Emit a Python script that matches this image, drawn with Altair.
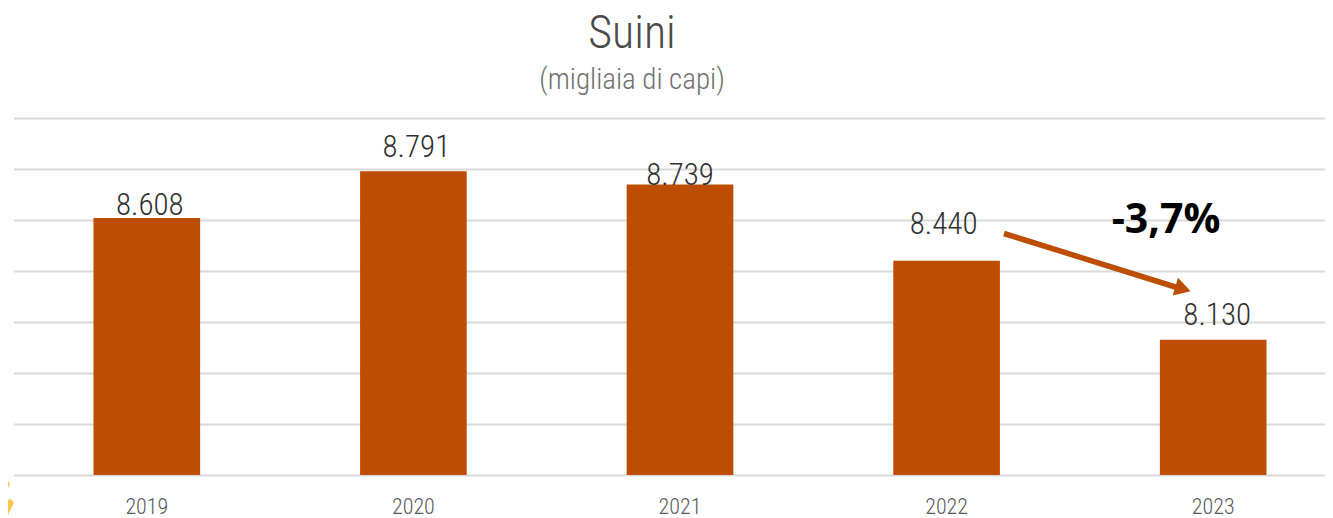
import altair as alt
import pandas as pd

years = ["2019", "2020", "2021", "2022", "2023"]
values = [8608, 8791, 8739, 8440, 8130]
labels = ["8.608", "8.791", "8.739", "8.440", "8.130"]
y_ticks = [7600, 7800, 8000, 8200, 8400, 8600, 8800, 9000]
title_text = "Suini"
subtitle_text = "(migliaia di capi)"
change_text = "-3,7%"

df = pd.DataFrame({"year": years, "value": values, "label": labels})

FONT = "Roboto Condensed, Roboto"
BAR = "#BD4D00"
x_scale = alt.Scale(domain=years, range=[0.5, 1333.5], paddingInner=0.6, paddingOuter=0.3)
y_scale = alt.Scale(domain=[7600, 9000], nice=False, zero=False, clamp=True)

bars = alt.Chart(df).mark_bar(color=BAR).encode(
    x=alt.X("year:N", scale=x_scale, sort=years,
            axis=alt.Axis(title=None, domain=False, ticks=False, labelAngle=0, labelFont=FONT,
                          labelFontSize=22, labelFontWeight=300, labelColor="#595959", labelPadding=21)),
    y=alt.Y("value:Q", scale=y_scale,
            axis=alt.Axis(title=None, values=y_ticks, domain=False, ticks=False, labels=False,
                          grid=True, gridColor="#D9D9D9", gridWidth=2)),
    y2=alt.datum(7600),
)

# hand-placed data labels: (dx, dy) per year
offsets = {"2019": (3, -3), "2020": (3, -14), "2021": (0, 0), "2022": (-3, -27), "2023": (4, -15)}
layers = [bars]
for yr, (dx, dy) in offsets.items():
    layers.append(
        alt.Chart(df).transform_filter(alt.datum.year == yr)
        .mark_text(font=FONT, fontSize=31, fontWeight=300, color="#2F2F2F", baseline="alphabetic", dx=dx, dy=dy)
        .encode(x=alt.X("year:N", scale=x_scale, sort=years), y=alt.Y("value:Q", scale=y_scale), text="label:N")
    )

# annotation arrow (pixel coordinates relative to the plot area)
shaft = alt.Chart(df.head(1)).mark_rule(color=BAR, strokeWidth=5.5).encode(
    x=alt.value(991), x2=alt.value(1164), y=alt.value(115.5), y2=alt.value(169.5))
head = alt.Chart(df.head(1)).mark_point(shape="triangle-right", filled=True, color=BAR, opacity=1,
                                        size=340, angle=17).encode(
    x=alt.value(1170), y=alt.value(171))
change = alt.Chart(df.head(1)).mark_text(font="Open Sans", fontWeight="bold", fontSize=41, color="#000000",
                                         baseline="alphabetic").encode(
    x=alt.value(1153), y=alt.value(115), text=alt.value(change_text))

# decorative yellow strokes at the lower-left edge
strokes = [
    alt.Chart(df.head(1)).mark_rule(color="#FFC650", strokeWidth=7, strokeCap="round").encode(
        x=alt.value(x0), x2=alt.value(x1), y=alt.value(y0), y2=alt.value(y1))
    for x0, x1, y0, y1 in [(-10, -15, 338, 352), (-7, -13, 366, 382), (-3, -13, 385, 405)]
]

chart = alt.layer(*layers, shaft, head, change, *strokes).properties(
    width=1312, height=357,
    padding={"left": 5, "top": 110, "right": 0, "bottom": 42},
    autosize=alt.AutoSizeParams(type="none"),
    title=alt.TitleParams(
        text=title_text, subtitle=subtitle_text, anchor="middle", font=FONT, fontSize=46,
        fontWeight=300, color="#4A4A4A", subtitleFont=FONT, subtitleFontSize=29,
        subtitleFontWeight=300, subtitleColor="#6F6F6F", subtitlePadding=8, offset=22, dx=-37,
    ),
).configure_view(stroke=None)

chart.save("out.html", embed_options={"renderer": "svg", "actions": False})
